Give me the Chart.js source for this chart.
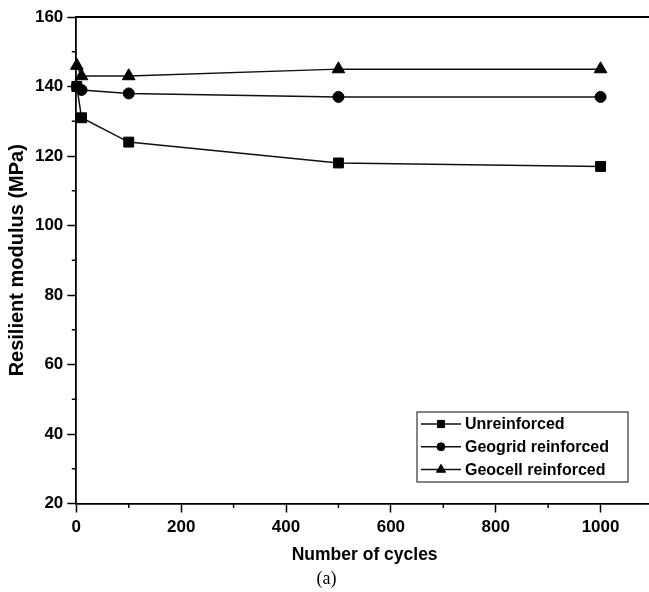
<!DOCTYPE html>
<html>
<head>
<meta charset="utf-8">
<script src="https://cdn.jsdelivr.net/npm/chart.js@4/dist/chart.umd.min.js"></script>
<style>
html, body { margin: 0; padding: 0; overflow: hidden; background: #fff; width: 649px; height: 592px; }
canvas { display: block; }
</style>
</head>
<body>
<canvas id="c" width="653" height="592"></canvas>
<script>
// ---- data ----
const cycles = [1, 10, 100, 500, 1000];
const unreinforced = [140, 131, 124, 118, 117];
const geogrid = [140, 139, 138, 137, 137];
const geocell = [146, 143, 143, 145, 145];
const seriesNames = ['Unreinforced', 'Geogrid reinforced', 'Geocell reinforced'];
const xTitle = 'Number of cycles';
const yTitle = 'Resilient modulus (MPa)';
const panelLabel = '(a)';

const SANS = "'Liberation Sans', Arial, Helvetica, sans-serif";
const INK = '#000';

function toPoints(ys) { return cycles.map((x, i) => ({ x: x, y: ys[i] })); }

function ds(label, ys, style, r) {
  return {
    label: label,
    data: toPoints(ys),
    borderColor: '#111',
    backgroundColor: '#000',
    borderWidth: 1.5,
    pointStyle: style,
    pointRadius: r,
    pointBorderWidth: 1,
    pointBorderColor: '#000',
    pointBackgroundColor: '#000',
    tension: 0,
    clip: false
  };
}

const framePlugin = {
  id: 'frame',
  afterDraw(chart) {
    const ctx = chart.ctx;
    const a = chart.chartArea;
    ctx.save();
    // top and right frame lines
    ctx.strokeStyle = INK;
    ctx.lineWidth = 1.8;
    ctx.beginPath();
    ctx.moveTo(a.left, a.top);
    ctx.lineTo(a.right, a.top);
    ctx.lineTo(a.right, a.bottom);
    ctx.stroke();
    // minor ticks halfway between major ticks
    ctx.lineWidth = 1.5;
    const ys = chart.scales.y, xs = chart.scales.x;
    for (let i = 0; i < ys.ticks.length - 1; i++) {
      const v = (ys.ticks[i].value + ys.ticks[i + 1].value) / 2;
      const p = ys.getPixelForValue(v);
      ctx.beginPath(); ctx.moveTo(a.left - 4.5, p); ctx.lineTo(a.left, p); ctx.stroke();
    }
    for (let i = 0; i < xs.ticks.length - 1; i++) {
      const v = (xs.ticks[i].value + xs.ticks[i + 1].value) / 2;
      const p = xs.getPixelForValue(v);
      ctx.beginPath(); ctx.moveTo(p, a.bottom); ctx.lineTo(p, a.bottom + 4.5); ctx.stroke();
    }
    // legend box
    const L = { left: 417, top: 412, right: 628, bottom: 482 };
    ctx.strokeStyle = '#333';
    ctx.lineWidth = 1.2;
    ctx.strokeRect(L.left, L.top, L.right - L.left, L.bottom - L.top);
    const rowH = 22.8;
    chart.data.datasets.forEach((d, i) => {
      const y = L.top + 12 + i * rowH;
      ctx.strokeStyle = '#111';
      ctx.lineWidth = 1.5;
      ctx.beginPath(); ctx.moveTo(L.left + 4, y); ctx.lineTo(L.left + 44, y); ctx.stroke();
      ctx.fillStyle = '#000';
      ctx.strokeStyle = '#000';
      ctx.lineWidth = 1;
      Chart.helpers.drawPoint(ctx, { pointStyle: d.pointStyle, radius: d.pointRadius * 0.72, rotation: 0, borderWidth: 1 }, L.left + 24, y);
      ctx.fillStyle = INK;
      ctx.font = 'bold 16px ' + SANS;
      ctx.textBaseline = 'middle';
      ctx.textAlign = 'left';
      ctx.fillText(d.label, L.left + 48, y + 1);
    });
    ctx.restore();
  }
};

new Chart(document.getElementById('c'), {
  type: 'line',
  data: {
    datasets: [
      ds(seriesNames[0], unreinforced, 'rect', 7),
      ds(seriesNames[1], geogrid, 'circle', 5.5),
      ds(seriesNames[2], geocell, 'triangle', 7.3)
    ]
  },
  options: {
    responsive: false,
    animation: false,
    devicePixelRatio: 1,
    layout: { autoPadding: false, padding: { top: 17, left: 0, right: 0, bottom: 0 } },
    plugins: {
      legend: { display: false },
      tooltip: { enabled: false },
      title: {
        display: true,
        text: panelLabel,
        position: 'bottom',
        color: INK,
        font: { family: "'Liberation Serif', 'Times New Roman', serif", size: 18, weight: 'normal' },
        padding: { top: 0, bottom: 2 }
      }
    },
    scales: {
      x: {
        type: 'linear',
        min: 0,
        max: 1100,
        border: { display: true, color: INK, width: 1.8 },
        grid: { drawOnChartArea: false, drawTicks: true, tickLength: 9, tickWidth: 1.5, tickColor: INK },
        ticks: {
          stepSize: 200,
          includeBounds: false,
          padding: 5,
          color: INK,
          font: { family: SANS, size: 17, weight: 'bold' },
          maxRotation: 0,
          callback: (v) => String(v)
        },
        title: {
          display: true,
          text: xTitle,
          color: INK,
          font: { family: SANS, size: 17.5, weight: 'bold' },
          padding: { top: 0, bottom: 2.5 }
        },
        afterFit(s) { s.height = 64.9; }
      },
      y: {
        type: 'linear',
        min: 20,
        max: 160,
        border: { display: true, color: INK, width: 1.8 },
        grid: { drawOnChartArea: false, drawTicks: true, tickLength: 9, tickWidth: 1.5, tickColor: INK },
        ticks: {
          stepSize: 20,
          padding: 4,
          color: INK,
          font: { family: SANS, size: 17, weight: 'bold' },
          callback: (v) => String(v)
        },
        title: {
          display: true,
          text: yTitle,
          color: INK,
          font: { family: SANS, size: 20, weight: 'bold' },
          padding: { top: 5, bottom: 0 }
        },
        afterFit(s) { s.width = 76.3; }
      }
    }
  },
  plugins: [framePlugin]
});
</script>
</body>
</html>
